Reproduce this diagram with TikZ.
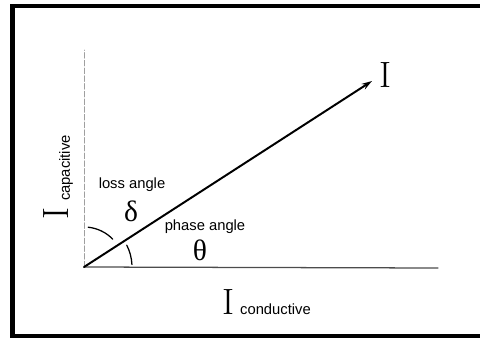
\documentclass[tikz,border=0pt]{standalone}
\usepackage{amsmath,amssymb}
\usepackage{fontspec}
\setsansfont{Liberation Sans}
\newfontfamily\greekfont{Liberation Serif}
\usepackage{tikz}
\usetikzlibrary{arrows.meta}
\usepackage{xcolor}

\begin{document}
\begin{tikzpicture}[x=0.025cm,y=0.025cm,>={Stealth[length=2.6mm,width=1.6mm]},font=\sffamily\fontsize{10.5}{12}\selectfont,line cap=round,
  bigI/.style={font=\rmfamily\fontsize{26}{26}\selectfont,inner sep=0pt},
  greek/.style={font=\greekfont\fontsize{21}{21}\selectfont,inner sep=0pt},
  anglearc/.style={black,line width=0.9pt}]
\clip (0,0) rectangle (480,338);
\draw[line width=3pt] (12.5,2) rectangle (495,332);
% axes
\coordinate (O) at (84,71);
\coordinate (ytop) at (84,288);
\coordinate (xend) at (438,70);
\coordinate (tip) at (372,257);
\draw[gray!75,dash pattern=on 4pt off 1.5pt,line width=0.6pt] (O) -- (ytop);
\draw[gray!60!black,line width=0.9pt] (O) -- (xend);
\draw[->,line width=1.4pt] (O) -- (tip);
% labels
\node[bigI] (Itot) at (385,263) {I};
\node[bigI,rotate=90] (Icap) at (56.5,125) {I};
\node[rotate=90] (capac) at (66,170) {capacitive};
\node[bigI] (Icond) at (228,36) {I};
\node[anchor=south west,inner sep=0pt] (cond) at ([xshift=4pt]Icond.south east) {conductive};
\node (loss) at (132,153) {loss angle};
\node[greek] (delta) at (131,127) {δ};
\node (phase) at (205,111) {phase angle};
\node[greek] (theta) at (200,88) {θ};
% angle arcs
\draw[anglearc] ([shift={(84:40)}]O) arc (84:44:40);
\draw[anglearc] ([shift={(27:48)}]O) arc (27:3:48);
\end{tikzpicture}
\end{document}
